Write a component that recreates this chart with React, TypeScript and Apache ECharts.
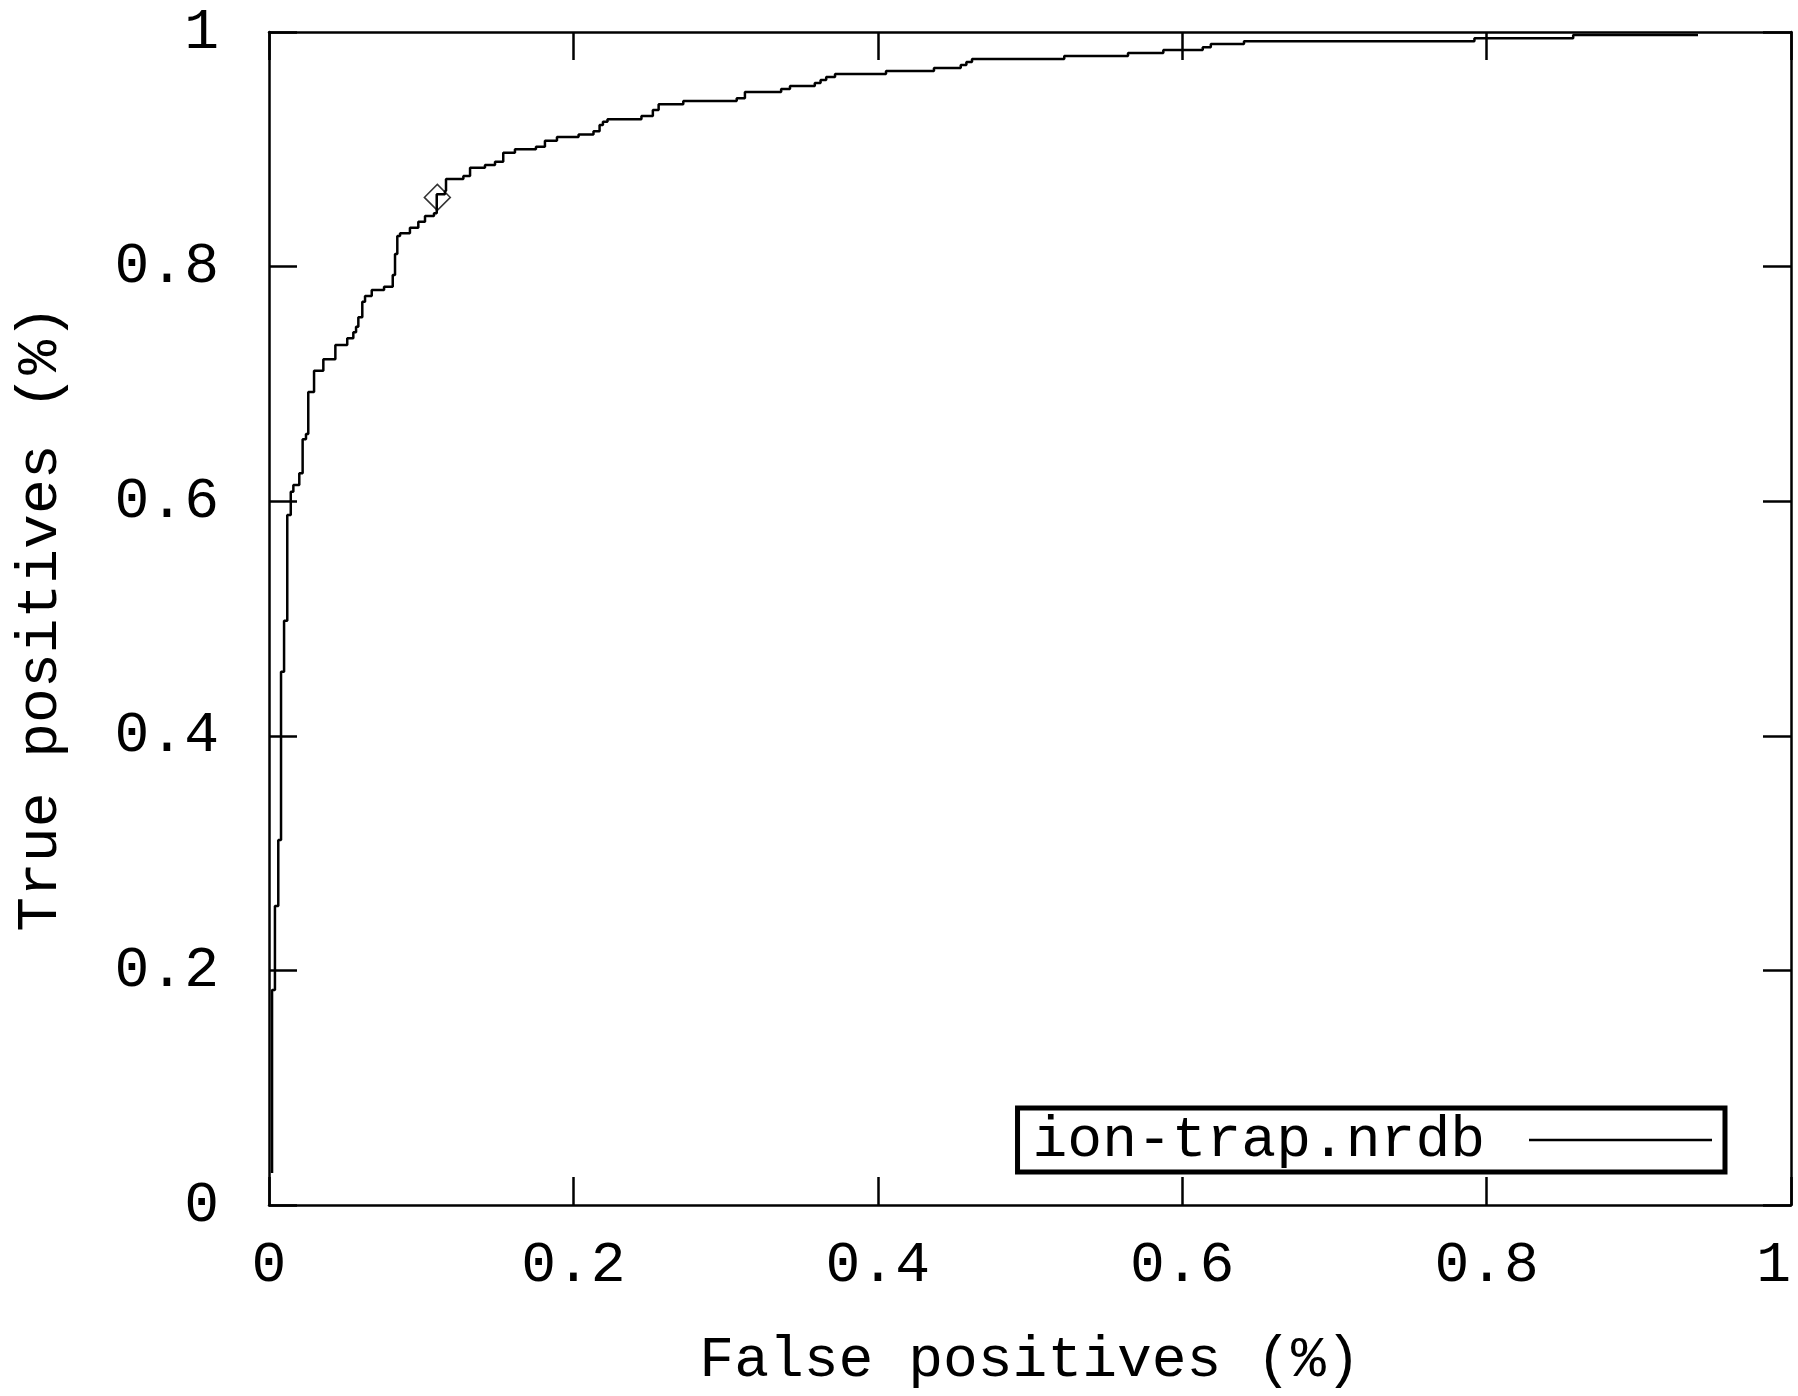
import React, { useEffect, useRef } from "react";
import * as echarts from "echarts";

// ROC curve corners (false positive rate, true positive rate), drawn as a step line
const rocPoints: [number, number][] = [
  [0.002, 0.0273],
  [0.002, 0.1833],
  [0.0039, 0.2549],
  [0.0061, 0.3112],
  [0.0079, 0.4546],
  [0.0099, 0.4981],
  [0.012, 0.5882],
  [0.0143, 0.6081],
  [0.016, 0.6138],
  [0.0199, 0.6238],
  [0.0221, 0.6528],
  [0.0243, 0.6573],
  [0.0258, 0.6931],
  [0.0296, 0.7113],
  [0.0357, 0.721],
  [0.0436, 0.7332],
  [0.0514, 0.7389],
  [0.0554, 0.744],
  [0.0572, 0.7488],
  [0.0587, 0.7568],
  [0.0613, 0.7701],
  [0.0631, 0.7749],
  [0.0675, 0.7801],
  [0.0756, 0.7829],
  [0.0813, 0.7928],
  [0.0828, 0.8107],
  [0.0843, 0.8261],
  [0.0861, 0.8284],
  [0.0926, 0.8332],
  [0.0981, 0.8383],
  [0.1025, 0.8431],
  [0.1084, 0.8454],
  [0.1102, 0.8616],
  [0.1156, 0.8645],
  [0.1163, 0.8747],
  [0.1277, 0.8772],
  [0.1321, 0.8843],
  [0.1419, 0.8866],
  [0.1485, 0.8894],
  [0.1539, 0.8971],
  [0.1616, 0.9],
  [0.1754, 0.9022],
  [0.1813, 0.9073],
  [0.1892, 0.9105],
  [0.2034, 0.9126],
  [0.2132, 0.9153],
  [0.2172, 0.9207],
  [0.2194, 0.9235],
  [0.2224, 0.9257],
  [0.2447, 0.9284],
  [0.2522, 0.9335],
  [0.256, 0.9384],
  [0.2722, 0.9412],
  [0.3073, 0.9435],
  [0.3127, 0.9488],
  [0.3365, 0.9514],
  [0.3423, 0.954],
  [0.3586, 0.9565],
  [0.3624, 0.9591],
  [0.3661, 0.9616],
  [0.3719, 0.9642],
  [0.4054, 0.9668],
  [0.4369, 0.9693],
  [0.4545, 0.9719],
  [0.4582, 0.9744],
  [0.4619, 0.977],
  [0.5225, 0.9795],
  [0.5644, 0.9821],
  [0.5876, 0.9847],
  [0.6135, 0.987],
  [0.6188, 0.9898],
  [0.6406, 0.9921],
  [0.792, 0.9946],
  [0.8569, 0.9974],
  [0.9389, 0.9974],
];

// highlighted operating point (diamond marker)
const operatingPoint: [number, number][] = [[0.1106, 0.859]];

const seriesName = "ion-trap.nrdb";
const xAxisTitle = "False positives (%)";
const yAxisTitle = "True positives (%)";
const tickMin = 0;
const tickMax = 1;
const tickStep = 0.2;

const FONT = "'Liberation Mono', 'DejaVu Sans Mono', monospace";
const FS = 58;

export default function App() {
  const ref = useRef<HTMLDivElement>(null);

  useEffect(() => {
    if (!ref.current) return;
    const chart = echarts.init(ref.current, null, { renderer: "svg" });

    const axisBase = {
      type: "value" as const,
      min: tickMin,
      max: tickMax,
      interval: tickStep,
      axisLine: { show: true, onZero: false, lineStyle: { color: "#000", width: 2.5 } },
      axisTick: { show: true, inside: true, length: 28, lineStyle: { color: "#000", width: 2.5 } },
      splitLine: { show: false },
    };

    const labelStyle = {
      color: "#000",
      fontSize: FS,
      fontFamily: FONT,
    };

    chart.setOption({
      animation: false,
      backgroundColor: "#fff",
      textStyle: { fontFamily: FONT, color: "#000" },
      grid: {
        left: 269,
        right: 7,
        top: 32,
        bottom: 191,
        containLabel: false,
        outerBoundsMode: "none",
      },
      xAxis: [
        {
          ...axisBase,
          position: "bottom",
          axisLabel: {
            ...labelStyle,
            margin: 31,
            showMinLabel: true,
            showMaxLabel: true,
            alignMaxLabel: "right",
          },
          name: xAxisTitle,
          nameLocation: "middle",
          nameGap: 126,
          nameTextStyle: { ...labelStyle },
        },
        {
          ...axisBase,
          position: "top",
          axisLabel: { show: false },
        },
      ],
      yAxis: [
        {
          ...axisBase,
          position: "left",
          axisLabel: { ...labelStyle, margin: 50, showMinLabel: true, showMaxLabel: true },
          name: yAxisTitle,
          nameLocation: "middle",
          nameGap: 200,
          nameRotate: 90,
          nameTextStyle: { ...labelStyle },
        },
        {
          ...axisBase,
          position: "right",
          axisLabel: { show: false },
        },
      ],
      legend: {
        data: [seriesName],
        right: 73,
        bottom: 224,
        orient: "horizontal",
        align: "right",
        icon: "rect",
        itemWidth: 183,
        itemHeight: 2.5,
        backgroundColor: "#fff",
        borderColor: "#000",
        borderWidth: 5,
        borderRadius: 0,
        padding: [3, 13, 3, 15],
        selectedMode: false,
        textStyle: {
          fontFamily: FONT,
          fontSize: FS,
          color: "#000",
          lineHeight: 58,
          padding: [0, 39, 0, 0],
        },
      },
      series: [
        {
          type: "line",
          name: seriesName,
          data: rocPoints,
          step: "end",
          showSymbol: false,
          symbol: "none",
          silent: true,
          lineStyle: { color: "#000", width: 2.5 },
          itemStyle: { color: "#000" },
          z: 3,
        },
        {
          type: "scatter",
          name: "operating point",
          data: operatingPoint,
          symbol: "diamond",
          symbolSize: 26,
          silent: true,
          itemStyle: { color: "rgba(0,0,0,0)", borderColor: "#000", borderWidth: 1.5 },
          z: 4,
        },
      ],
    });

    return () => {
      chart.dispose();
    };
  }, []);

  return (
    <div
      ref={ref}
      style={{ position: "absolute", left: 0, top: 0, width: 1798, height: 1396, background: "#fff" }}
    />
  );
}
